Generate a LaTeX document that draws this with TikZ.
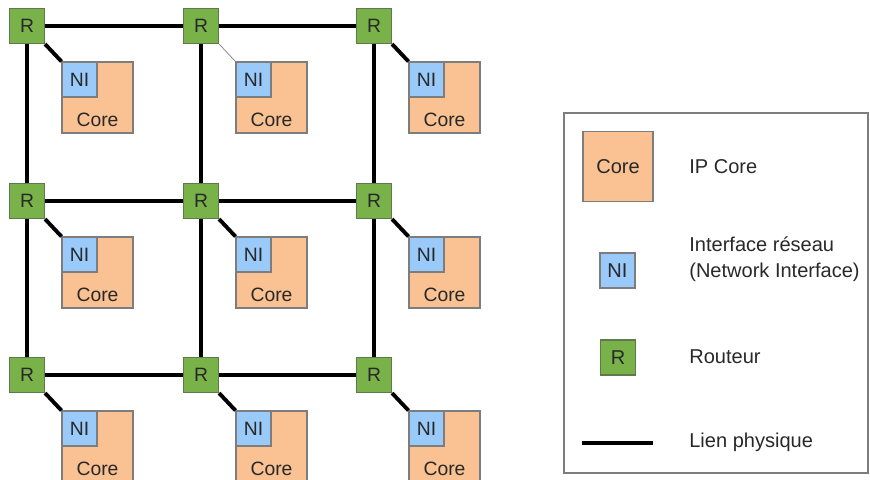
\documentclass[tikz,border=0pt]{standalone}
\usepackage{fontspec}
\setmainfont{Liberation Sans}
\usetikzlibrary{positioning}

\definecolor{routerfill}{RGB}{122,178,74}
\definecolor{routerdraw}{RGB}{95,120,80}
\definecolor{nifill}{RGB}{153,202,250}
\definecolor{corefill}{RGB}{250,193,146}
\definecolor{boxdraw}{RGB}{125,125,125}
\definecolor{txt}{RGB}{40,40,40}

\tikzset{
  box/.style={draw=boxdraw, line width=0.6pt, inner sep=0pt, text=txt},
  router/.style={box, fill=routerfill, draw=routerdraw, minimum size=0.7cm},
  ni/.style={box, fill=nifill, minimum size=0.7cm},
  core/.style={box, fill=corefill, minimum size=1.42cm},
  link/.style={line width=2.2pt, black},
  thinlink/.style={line width=0.4pt, gray},
  gridtxt/.style={font=\fontsize{11}{13}\selectfont, text=txt, inner sep=0pt},
  legtxt/.style={font=\fontsize{11.4}{14}\selectfont, text=txt, inner sep=0pt, align=left}
}

\begin{document}
\begin{tikzpicture}[x=0.02cm, y=-0.02cm]
  \useasboundingbox (0,0) rectangle (870,480);
  % grid of routers, interfaces and cores
  \foreach \cx [count=\j] in {27,201,374}
    \foreach \cy [count=\i] in {26,201,375}
    {
      \node[router, gridtxt] (r-\i-\j) at (\cx,\cy) {R};
      \node[core] (core-\i-\j) at (\cx+70.5,\cy+71.5) {};
      \node[ni, gridtxt, anchor=north west] (ni-\i-\j) at (core-\i-\j.north west) {NI};
      \node[gridtxt] (coretxt-\i-\j) at ([yshift=0.28cm]core-\i-\j.south) {Core};
    }
  % router to interface links
  \foreach \i/\j in {1/1,1/3,2/1,2/2,2/3,3/1,3/2,3/3}
    \draw[link] (r-\i-\j.south east) -- (ni-\i-\j.north west);
  \draw[thinlink] (r-1-2.south east) -- (ni-1-2.north west);
  % mesh links
  \foreach \i in {1,2,3}
  {
    \draw[link] (r-\i-1) -- (r-\i-2);
    \draw[link] (r-\i-2) -- (r-\i-3);
    \draw[link] (r-1-\i) -- (r-2-\i);
    \draw[link] (r-2-\i) -- (r-3-\i);
  }
  % legend
  \draw[boxdraw, line width=0.8pt] (564,113) rectangle (868,473);
  \node[core, legtxt, minimum size=1.4cm] (leg-core) at (618,166.5) {Core};
  \node[ni, legtxt] (leg-ni) at (617.5,270.5) {NI};
  \node[router, legtxt] (leg-r) at (618,357.5) {R};
  \coordinate (leg-a) at (582,443);
  \coordinate (leg-b) at (653,443);
  \draw[link] (leg-a) -- (leg-b);
  \node[legtxt, anchor=west] (leg-core-txt) at (689,167) {IP Core};
  \node[legtxt, anchor=west] (leg-ni-txt) at (689,259) {Interface réseau\\[1pt](Network Interface)};
  \node[legtxt, anchor=west] (leg-r-txt) at (689,357) {Routeur};
  \node[legtxt, anchor=west] (leg-l-txt) at (689,442) {Lien physique};
\end{tikzpicture}
\end{document}
